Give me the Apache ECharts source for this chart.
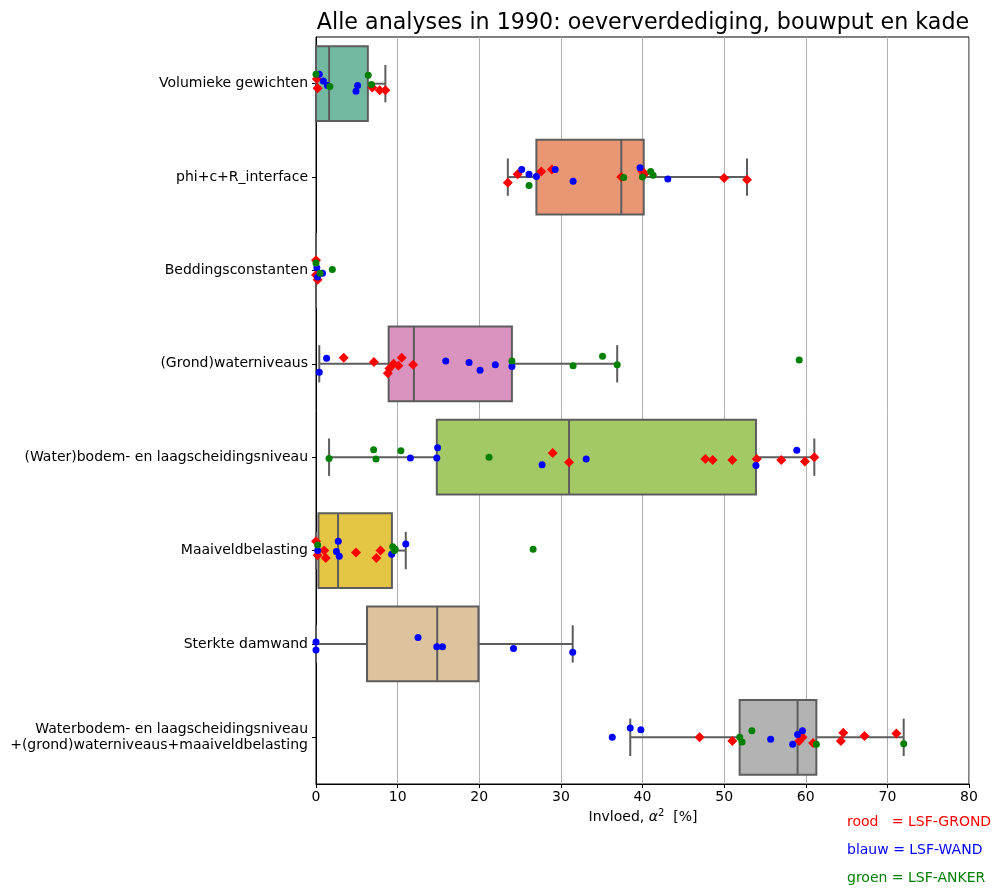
<!DOCTYPE html>
<html><head><meta charset="utf-8">
<script src="https://cdn.jsdelivr.net/npm/echarts@6/dist/echarts.min.js"></script>
<style>html,body{margin:0;padding:0;background:#fff}#c{width:995px;height:888px}</style>
</head><body><div id="c"></div>
<script>
const FONT = 'DejaVu Sans';
const titleText = 'Alle analyses in 1990: oeververdediging, bouwput en kade';
const categories = [
  'Volumieke gewichten',
  'phi+c+R_interface',
  'Beddingsconstanten',
  '(Grond)waterniveaus',
  '(Water)bodem- en laagscheidingsniveau',
  'Maaiveldbelasting',
  'Sterkte damwand',
  'Waterbodem- en laagscheidingsniveau\n+(grond)waterniveaus+maaiveldbelasting'
];
// [min, Q1, median, Q3, max]
const boxStats = [
  [0.0, 0.0, 1.6, 6.35, 8.5],
  [23.5, 27.0, 37.4, 40.15, 52.8],
  [0.0, 0.0, 0.0, 0.0, 0.0],
  [0.4, 8.9, 12.0, 24.0, 36.9],
  [1.6, 14.8, 31.0, 53.9, 61.05],
  [0.0, 0.3, 2.7, 9.3, 11.0],
  [0.0, 6.25, 14.85, 19.9, 31.45],
  [38.5, 51.9, 59.0, 61.3, 72.0]
];
const boxColors = ['#73b8a0', '#e99674', '#93a1c4', '#da92bf', '#a3c964', '#e4c544', '#dcc29d', '#b3b3b3'];
// [category index, value, vertical jitter]
const redPoints = [
  [0,0.1,-0.05],[0,0.2,0.05],[0,6.9,0.04],[0,7.8,0.07],[0,8.5,0.07],
  [1,23.5,0.06],[1,24.7,-0.03],[1,27.6,-0.06],[1,28.9,-0.08],[1,37.4,0.0],[1,40.0,-0.06],[1,40.2,-0.03],[1,50.0,0.01],[1,52.8,0.03],
  [2,0.0,-0.11],[2,0.2,0.1],[2,0.0,0.05],
  [3,3.4,-0.065],[3,7.1,-0.02],[3,8.8,0.1],[3,9.0,0.05],[3,9.5,0.0],[3,10.1,0.02],[3,10.5,-0.065],[3,11.9,0.01],
  [4,29.0,-0.045],[4,31.0,0.055],[4,47.7,0.02],[4,48.6,0.03],[4,51.0,0.03],[4,54.0,0.02],[4,57.0,0.03],[4,59.9,0.045],[4,61.05,0.0],
  [5,0.0,-0.1],[5,0.2,0.05],[5,1.0,0.0],[5,1.2,0.08],[5,4.9,0.02],[5,7.4,0.08],[5,7.9,0.0],
  [7,47.0,0.0],[7,51.0,0.04],[7,59.2,0.04],[7,59.6,0.0],[7,60.9,0.06],[7,64.3,0.04],[7,64.6,-0.05],[7,67.2,-0.015],[7,71.1,-0.04]
];
const bluePoints = [
  [0,0.4,-0.1],[0,0.9,-0.03],[0,1.4,0.02],[0,5.1,0.02],[0,4.9,0.08],
  [1,25.2,-0.08],[1,26.1,-0.03],[1,27.0,-0.005],[1,29.3,-0.08],[1,31.5,0.045],[1,39.7,-0.1],[1,43.1,0.02],
  [2,0.8,0.03],[2,0.1,-0.03],[2,0.2,0.07],
  [3,1.3,-0.06],[3,0.4,0.09],[3,15.9,-0.03],[3,18.75,-0.015],[3,20.1,0.07],[3,21.97,0.01],[3,24.0,0.03],
  [4,11.56,0.01],[4,14.9,-0.1],[4,14.8,0.01],[4,27.7,0.08],[4,33.1,0.02],[4,53.9,0.09],[4,58.9,-0.074],
  [5,0.2,0.0],[5,2.73,-0.1],[5,2.5,0.01],[5,2.85,0.06],[5,9.27,0.04],[5,11.0,-0.07],
  [6,0.0,-0.02],[6,0.0,0.065],[6,12.5,-0.07],[6,14.8,0.03],[6,15.5,0.03],[6,24.2,0.05],[6,31.45,0.09],
  [7,36.3,0.0],[7,38.5,-0.1],[7,39.8,-0.08],[7,55.7,0.02],[7,58.4,0.075],[7,59.0,-0.03],[7,59.6,-0.07]
];
const greenPoints = [
  [0,0.0,-0.1],[0,1.7,0.03],[0,6.4,-0.09],[0,6.8,0.01],
  [1,26.1,0.09],[1,37.7,0.006],[1,40.0,0.0],[1,41.0,-0.06],[1,41.3,-0.02],
  [2,0.0,-0.08],[2,0.5,0.03],[2,2.0,-0.01],
  [3,24.0,-0.03],[3,31.5,0.02],[3,35.1,-0.08],[3,36.9,0.01],[3,59.2,-0.04],
  [4,1.6,0.015],[4,7.06,-0.08],[4,7.35,0.02],[4,10.4,-0.07],[4,21.2,0.0],
  [5,0.2,-0.06],[5,9.4,-0.04],[5,9.7,-0.015],[5,9.6,0.0],[5,26.6,-0.015],
  [7,51.9,0.0],[7,52.2,0.05],[7,53.4,-0.07],[7,61.3,0.075],[7,72.0,0.07]
];
const legendLines = [
  ['rood   = LSF-GROND', '#ff0000'],
  ['blauw = LSF-WAND', '#0000ff'],
  ['groen = LSF-ANKER', '#008000']
];
const xMin = 0, xMax = 80, xStep = 10;

const chart = echarts.init(document.getElementById('c'), null, {renderer: 'canvas'});
const toXY = p => [p[1], p[0] + p[2]];
const EDGE = '#5d5d5d';

function renderBox(params, api) {
  const cat = api.value(0);
  const mn = api.value(1), q1 = api.value(2), md = api.value(3), q3 = api.value(4), mx = api.value(5);
  const yc = api.coord([0, cat])[1];
  const band = api.size([0, 1])[1];
  const h = band * 0.8, cap = h / 2;
  const X = v => api.coord([v, cat])[0];
  const ls = {stroke: EDGE, lineWidth: 2, fill: null};
  return {
    type: 'group',
    children: [
      {type: 'line', shape: {x1: X(mn), y1: yc, x2: X(q1), y2: yc}, style: ls},
      {type: 'line', shape: {x1: X(q3), y1: yc, x2: X(mx), y2: yc}, style: ls},
      {type: 'line', shape: {x1: X(mn), y1: yc - cap / 2, x2: X(mn), y2: yc + cap / 2}, style: ls},
      {type: 'line', shape: {x1: X(mx), y1: yc - cap / 2, x2: X(mx), y2: yc + cap / 2}, style: ls},
      {type: 'rect', shape: {x: X(q1), y: yc - h / 2, width: X(q3) - X(q1), height: h},
        style: {fill: boxColors[cat], stroke: EDGE, lineWidth: 2}},
      {type: 'line', shape: {x1: X(md), y1: yc - h / 2, x2: X(md), y2: yc + h / 2}, style: ls}
    ]
  };
}

const option = {
  animation: false,
  backgroundColor: '#fff',
  textStyle: {fontFamily: FONT},
  title: {
    text: titleText, left: 638, top: 7, textAlign: 'center',
    textStyle: {fontFamily: FONT, fontSize: 22.2, fontWeight: 'normal', color: '#000'}
  },
  grid: {left: 316, right: 26, top: 37, bottom: 104, show: true, borderColor: '#000', borderWidth: 1, backgroundColor: 'transparent'},
  xAxis: {
    type: 'value', min: xMin, max: xMax, interval: xStep,
    axisLine: {show: true, onZero: false, lineStyle: {color: '#000', width: 1}},
    axisTick: {show: true, length: 4, lineStyle: {color: '#000'}},
    axisLabel: {color: '#000', fontSize: 14, fontFamily: FONT, margin: 6},
    splitLine: {show: true, lineStyle: {color: '#b0b0b0', width: 1}}
  },
  yAxis: [{
    type: 'category', data: categories, inverse: true,
    axisLine: {show: true, onZero: false, lineStyle: {color: '#000', width: 1}},
    axisTick: {show: true, alignWithLabel: true, length: 4, lineStyle: {color: '#000'}},
    axisLabel: {color: '#000', fontSize: 14, fontFamily: FONT, margin: 8, align: 'right', lineHeight: 16},
    splitLine: {show: false}
  }, {
    type: 'value', min: -0.5, max: 7.5, inverse: true, show: false,
    axisLine: {show: false, onZero: false},
    splitLine: {show: false}
  }],
  series: [{
    type: 'custom', yAxisIndex: 0, silent: true,
    renderItem: renderBox,
    encode: {x: [1, 2, 3, 4, 5], y: 0},
    data: boxStats.map((s, i) => [i].concat(s)),
    z: 2
  }, {
    type: 'scatter', yAxisIndex: 1, silent: true, symbol: 'diamond', symbolSize: 10,
    itemStyle: {color: '#ff0000', opacity: 1}, data: redPoints.map(toXY), z: 3
  }, {
    type: 'scatter', yAxisIndex: 1, silent: true, symbol: 'circle', symbolSize: 7,
    itemStyle: {color: '#0000ff', opacity: 1}, data: bluePoints.map(toXY), z: 4
  }, {
    type: 'scatter', yAxisIndex: 1, silent: true, symbol: 'circle', symbolSize: 7,
    itemStyle: {color: '#008000', opacity: 1}, data: greenPoints.map(toXY), z: 5
  }]
};
option.graphic = [{
  type: 'text', silent: true, x: 643, y: 817,
  style: {
    text: 'Invloed, {i|α}{s|2}  [%]', fontFamily: FONT, fontSize: 14, fill: '#000',
    align: 'center', verticalAlign: 'middle',
    rich: {
      i: {fontFamily: FONT, fontStyle: 'italic', fontSize: 14, fill: '#000'},
      s: {fontFamily: FONT, fontSize: 10, fill: '#000', padding: [0, 0, 8, 0]}
    }
  }
}].concat(legendLines.map((l, k) => ({
  type: 'text', silent: true, x: 847, y: 822 + 28 * k,
  style: {text: l[0], fontFamily: FONT, fontSize: 14, fill: l[1], align: 'left', verticalAlign: 'middle'}
})));
chart.setOption(option);
</script>
</body></html>
